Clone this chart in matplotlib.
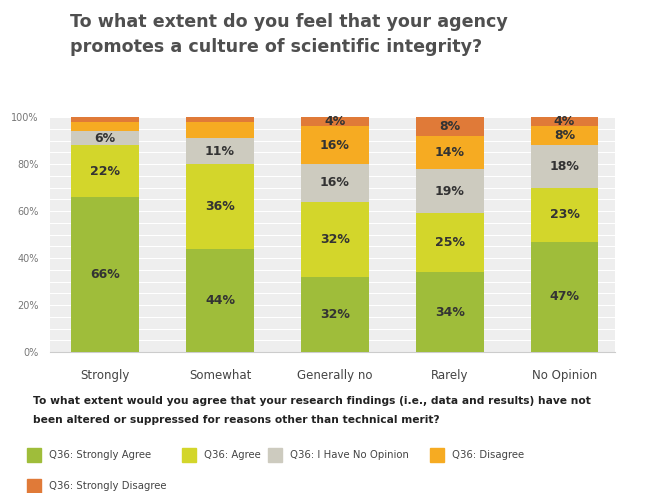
import numpy as np
import matplotlib.pyplot as plt

# categories (x axis) and stacked series, in percent
categories = ['Strongly', 'Somewhat', 'Generally no', 'Rarely', 'No Opinion']
strongly_agree = [66, 44, 32, 34, 47]
agree = [22, 36, 32, 25, 23]
no_opinion = [6, 11, 16, 19, 18]
disagree = [4, 7, 16, 14, 8]
strongly_disagree = [2, 2, 4, 8, 4]

series_names = ['Q36: Strongly Agree', 'Q36: Agree', 'Q36: I Have No Opinion',
                'Q36: Disagree', 'Q36: Strongly Disagree']
# which bars carry a value label for each series
show_label = [
    [True, True, True, True, True],
    [True, True, True, True, True],
    [True, True, True, True, True],
    [False, False, True, True, True],
    [False, False, True, True, True],
]
yticks = [0, 20, 40, 60, 80, 100]

colors = ['#9fbd3a', '#d3d62b', '#cdcbbf', '#f6ab22', '#e07a38']

fig = plt.figure(figsize=(6.55, 4.93), dpi=100)

# title
fig.text(70/655, 1-22/493, 'To what extent do you feel that your agency', fontsize=12.6,
         fontweight='bold', color='#4f4f4f', va='center', ha='left')
fig.text(70/655, 1-47/493, 'promotes a culture of scientific integrity?', fontsize=12.6,
         fontweight='bold', color='#4f4f4f', va='center', ha='left')

ax = fig.add_axes([50/655, 1-352/493, (615-50)/655, (352-117)/493])
ax.set_facecolor('#eeeeee')

x = np.arange(len(categories))
data = [strongly_agree, agree, no_opinion, disagree, strongly_disagree]
bottom = np.zeros(len(categories))
for vals, col, show in zip(data, colors, show_label):
    vals = np.array(vals, dtype=float)
    ax.bar(x, vals, 0.59, bottom=bottom, color=col, zorder=3)
    for i in range(len(x)):
        if show[i]:
            ax.text(x[i], bottom[i] + vals[i]/2, '%d%%' % vals[i], ha='center', va='center',
                    fontsize=9, fontweight='bold', color='#333333', zorder=4)
    bottom = bottom + vals

ax.set_xlim(-0.48, 4.44)
ax.set_ylim(0, 100)
ax.set_yticks(yticks)
ax.set_yticklabels(['%d%%' % t for t in yticks])
ax.set_yticks(np.arange(0, 101, 5), minor=True)
ax.grid(axis='y', which='both', color='white', lw=0.8, zorder=1)
ax.set_xticks(x)
ax.set_xticklabels(categories)
ax.tick_params(axis='x', length=0, pad=12, labelsize=8.5, labelcolor='#444444')
ax.tick_params(axis='y', which='both', length=0, pad=8, labelsize=7, labelcolor='#777777')
for s in ['top', 'right', 'left']:
    ax.spines[s].set_visible(False)
ax.spines['bottom'].set_color('#cccccc')

# subtitle
fig.text(33/655, 1-401/493, 'To what extent would you agree that your research findings (i.e., data and results) have not',
         fontsize=7.7, fontweight='bold', color='#222222', va='center')
fig.text(33/655, 1-420/493, 'been altered or suppressed for reasons other than technical merit?',
         fontsize=7.7, fontweight='bold', color='#222222', va='center')

# legend
legend_pos = [(27, 455), (182, 455), (268, 455), (430, 455), (27, 486)]
for (lx, ly), name, col in zip(legend_pos, series_names, colors):
    fig.patches.append(plt.Rectangle((lx/655, 1-(ly+7)/493), 14/655, 14/493,
                                     transform=fig.transFigure, color=col))
    fig.text((lx+22)/655, 1-ly/493, name, fontsize=7.3, color='#444444', va='center')

fig.savefig('out.png', dpi=100)
